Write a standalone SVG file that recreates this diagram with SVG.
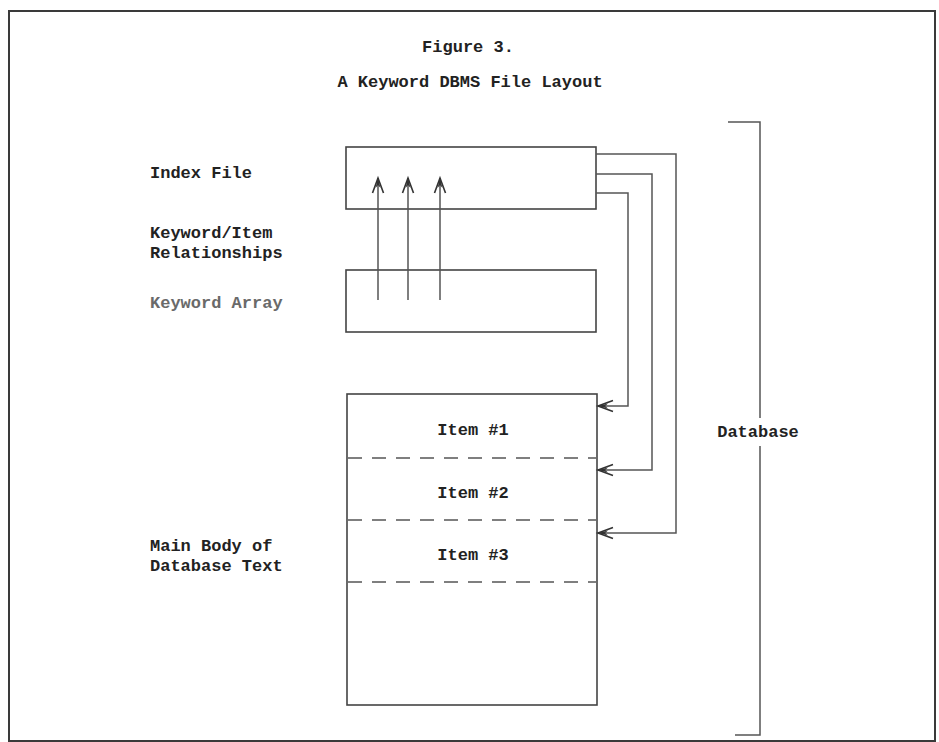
<svg xmlns="http://www.w3.org/2000/svg" width="939" height="742" viewBox="0 0 939 742">
  <style>
    .t { font-family: "Liberation Mono", "DejaVu Sans Mono", monospace; font-weight: bold; font-size: 17px; fill: #222; }
    .gray { fill: #6a6a6a; }
    .box { fill: none; stroke: #444; stroke-width: 1.6; }
    .ln { fill: none; stroke: #555; stroke-width: 1.5; }
    .dash { fill: none; stroke: #555; stroke-width: 1.5; stroke-dasharray: 14 10; }
    .frame { fill: none; stroke: #3a3a3a; stroke-width: 2; }
  </style>
  <defs>
    <marker id="barb" markerUnits="userSpaceOnUse" markerWidth="20" markerHeight="14" viewBox="-16 -7 20 14" refX="0" refY="0" orient="auto">
      <path d="M-15,-5.5 L0,0 L-15,5.5" fill="none" stroke="#333" stroke-width="1.6"/>
      <path d="M-10,-2.5 L0,0 L-10,2.5 L-7,0 Z" fill="#333"/>
    </marker>
  </defs>

  <rect class="frame" x="9" y="11" width="926" height="730"/>

  <g id="title">
    <text class="t" x="468" y="52" text-anchor="middle">Figure 3.</text>
    <text class="t" x="470" y="87" text-anchor="middle">A Keyword DBMS File Layout</text>
  </g>

  <g id="labels">
    <text class="t" x="150" y="178">Index File</text>
    <text class="t" x="150" y="238">Keyword/Item</text>
    <text class="t" x="150" y="258">Relationships</text>
    <text class="t gray" x="150" y="308">Keyword Array</text>
    <text class="t" x="150" y="551">Main Body of</text>
    <text class="t" x="150" y="571">Database Text</text>
  </g>

  <g id="index-file">
    <rect class="box" x="346" y="147" width="250" height="62"/>
  </g>

  <g id="keyword-array">
    <rect class="box" x="346" y="270" width="250" height="62"/>
  </g>

  <g id="main-body">
    <rect class="box" x="347" y="394" width="250" height="311"/>
    <line class="dash" x1="348" y1="458" x2="596" y2="458"/>
    <line class="dash" x1="348" y1="520" x2="596" y2="520"/>
    <line class="dash" x1="348" y1="582" x2="596" y2="582"/>
    <text class="t" x="473" y="435" text-anchor="middle">Item #1</text>
    <text class="t" x="473" y="498" text-anchor="middle">Item #2</text>
    <text class="t" x="473" y="560" text-anchor="middle">Item #3</text>
  </g>

  <g id="database-bracket">
    <path class="ln" d="M728,122 H760 V418"/>
    <path class="ln" d="M760,446 V735 H735" stroke-width="2"/>
    <text class="t" x="758" y="437" text-anchor="middle">Database</text>
  </g>

  <g id="connectors">
    <path class="ln" d="M378,300 V178" marker-end="url(#barb)"/>
    <path class="ln" d="M408,300 V178" marker-end="url(#barb)"/>
    <path class="ln" d="M440,300 V178" marker-end="url(#barb)"/>
    <path class="ln" d="M596,154 H676 V533 H598" marker-end="url(#barb)"/>
    <path class="ln" d="M596,174 H652 V470 H598" marker-end="url(#barb)"/>
    <path class="ln" d="M596,193 H628 V406 H598" marker-end="url(#barb)"/>
  </g>
</svg>
